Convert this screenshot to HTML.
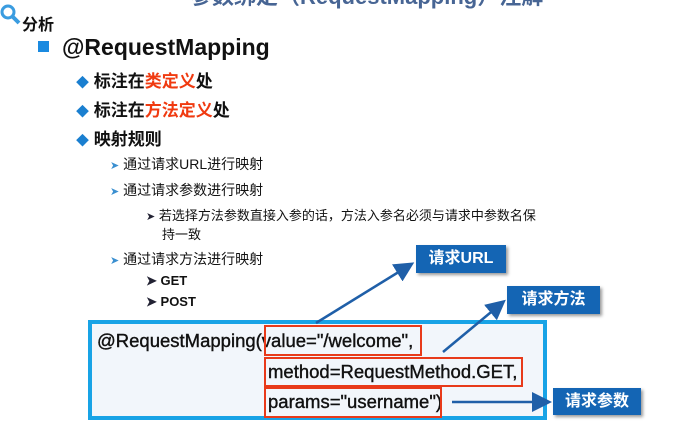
<!DOCTYPE html>
<html><head><meta charset="utf-8"><style>
body{margin:0;width:687px;height:429px;background:#fff;position:relative;overflow:hidden;font-family:"Liberation Sans","Noto Sans CJK SC",sans-serif;color:#111}
.a{position:absolute;white-space:nowrap;font-weight:bold}
.r{color:#f03a10}
.dia{color:#1a7fd0;font-size:13px}
.tri{color:#3a8fd0;font-size:11px}
.lab{position:absolute;background:#1465b4;color:#fff;font-weight:bold;font-size:16px;text-align:center;box-shadow:2px 2px 3px #999}
.rb{position:absolute;border:2px solid #e83a1a;box-sizing:border-box}
.code{position:absolute;white-space:nowrap;font-size:18.5px;color:#111;-webkit-text-stroke:0.4px #111}
</style></head><body>
<div class="a" style="left:190px;top:-21px;font-size:22px;color:#1a3f7a;opacity:.8">参数绑定（RequestMapping）注解</div>
<svg style="position:absolute;left:0;top:3px" width="24" height="24"><circle cx="8" cy="9" r="6" fill="none" stroke="#3a9ce0" stroke-width="3"/><line x1="12" y1="13" x2="19" y2="20" stroke="#3a9ce0" stroke-width="4"/></svg>
<div class="a" style="left:22px;top:11px;font-size:16px">分析</div>
<div style="position:absolute;left:38px;top:41px;width:11px;height:11px;background:#1a8ae0"></div>
<div class="a" style="left:62px;top:34px;font-size:23px">@RequestMapping</div>
<div class="a" style="left:76px;top:67px;font-size:17px"><span class="dia">◆</span> 标注在<span class="r">类定义</span>处</div>
<div class="a" style="left:76px;top:96px;font-size:17px"><span class="dia">◆</span> 标注在<span class="r">方法定义</span>处</div>
<div class="a" style="left:76px;top:125px;font-size:17px"><span class="dia">◆</span> 映射规则</div>
<div class="a" style="left:110px;top:154px;font-size:14px;font-weight:normal"><span class="tri">➤</span> 通过请求URL进行映射</div>
<div class="a" style="left:110px;top:180px;font-size:14px;font-weight:normal"><span class="tri">➤</span> 通过请求参数进行映射</div>
<div class="a" style="left:146px;top:205px;font-size:13px;font-weight:normal"><span class="tri" style="color:#223">➤</span> 若选择方法参数直接入参的话，方法入参名必须与请求中参数名保</div>
<div class="a" style="left:162px;top:224px;font-size:13px;font-weight:normal">持一致</div>
<div class="a" style="left:110px;top:249px;font-size:14px;font-weight:normal"><span class="tri">➤</span> 通过请求方法进行映射</div>
<div class="a" style="left:146px;top:273px;font-size:13px"><span style="color:#223">➤</span> GET</div>
<div class="a" style="left:146px;top:294px;font-size:13px"><span style="color:#223">➤</span> POST</div>
<div style="position:absolute;left:88px;top:320px;width:459px;height:100px;border:4px solid #18a3e6;box-sizing:border-box;background:#f2f6fb"></div>
<div class="code" style="left:97px;top:330px">@RequestMapping(value="/welcome",</div>
<div class="code" style="left:268px;top:361px">method=RequestMethod.GET,</div>
<div class="code" style="left:268px;top:391px">params="username")</div>
<div class="rb" style="left:264px;top:325px;width:158px;height:31px"></div>
<div class="rb" style="left:264px;top:357px;width:259px;height:30px"></div>
<div class="rb" style="left:264px;top:387px;width:178px;height:31px"></div>
<div class="lab" style="left:416px;top:245px;width:90px;height:28px;line-height:28px">请求URL</div>
<div class="lab" style="left:507px;top:286px;width:93px;height:28px;line-height:28px">请求方法</div>
<div class="lab" style="left:553px;top:388px;width:88px;height:27px;line-height:27px">请求参数</div>
<svg style="position:absolute;left:0;top:0" width="687" height="429">
<defs><marker id="m" markerWidth="8" markerHeight="8" refX="6" refY="4" orient="auto"><path d="M0,0L8,4L0,8z" fill="#1f5fa8"/></marker></defs>
<g stroke="#1f5fa8" stroke-width="2.5" fill="none" marker-end="url(#m)">
<line x1="316" y1="323" x2="410" y2="265"/>
<line x1="443" y1="352" x2="502" y2="303"/>
<line x1="452" y1="402" x2="547" y2="402"/>
</g></svg>
</body></html>
